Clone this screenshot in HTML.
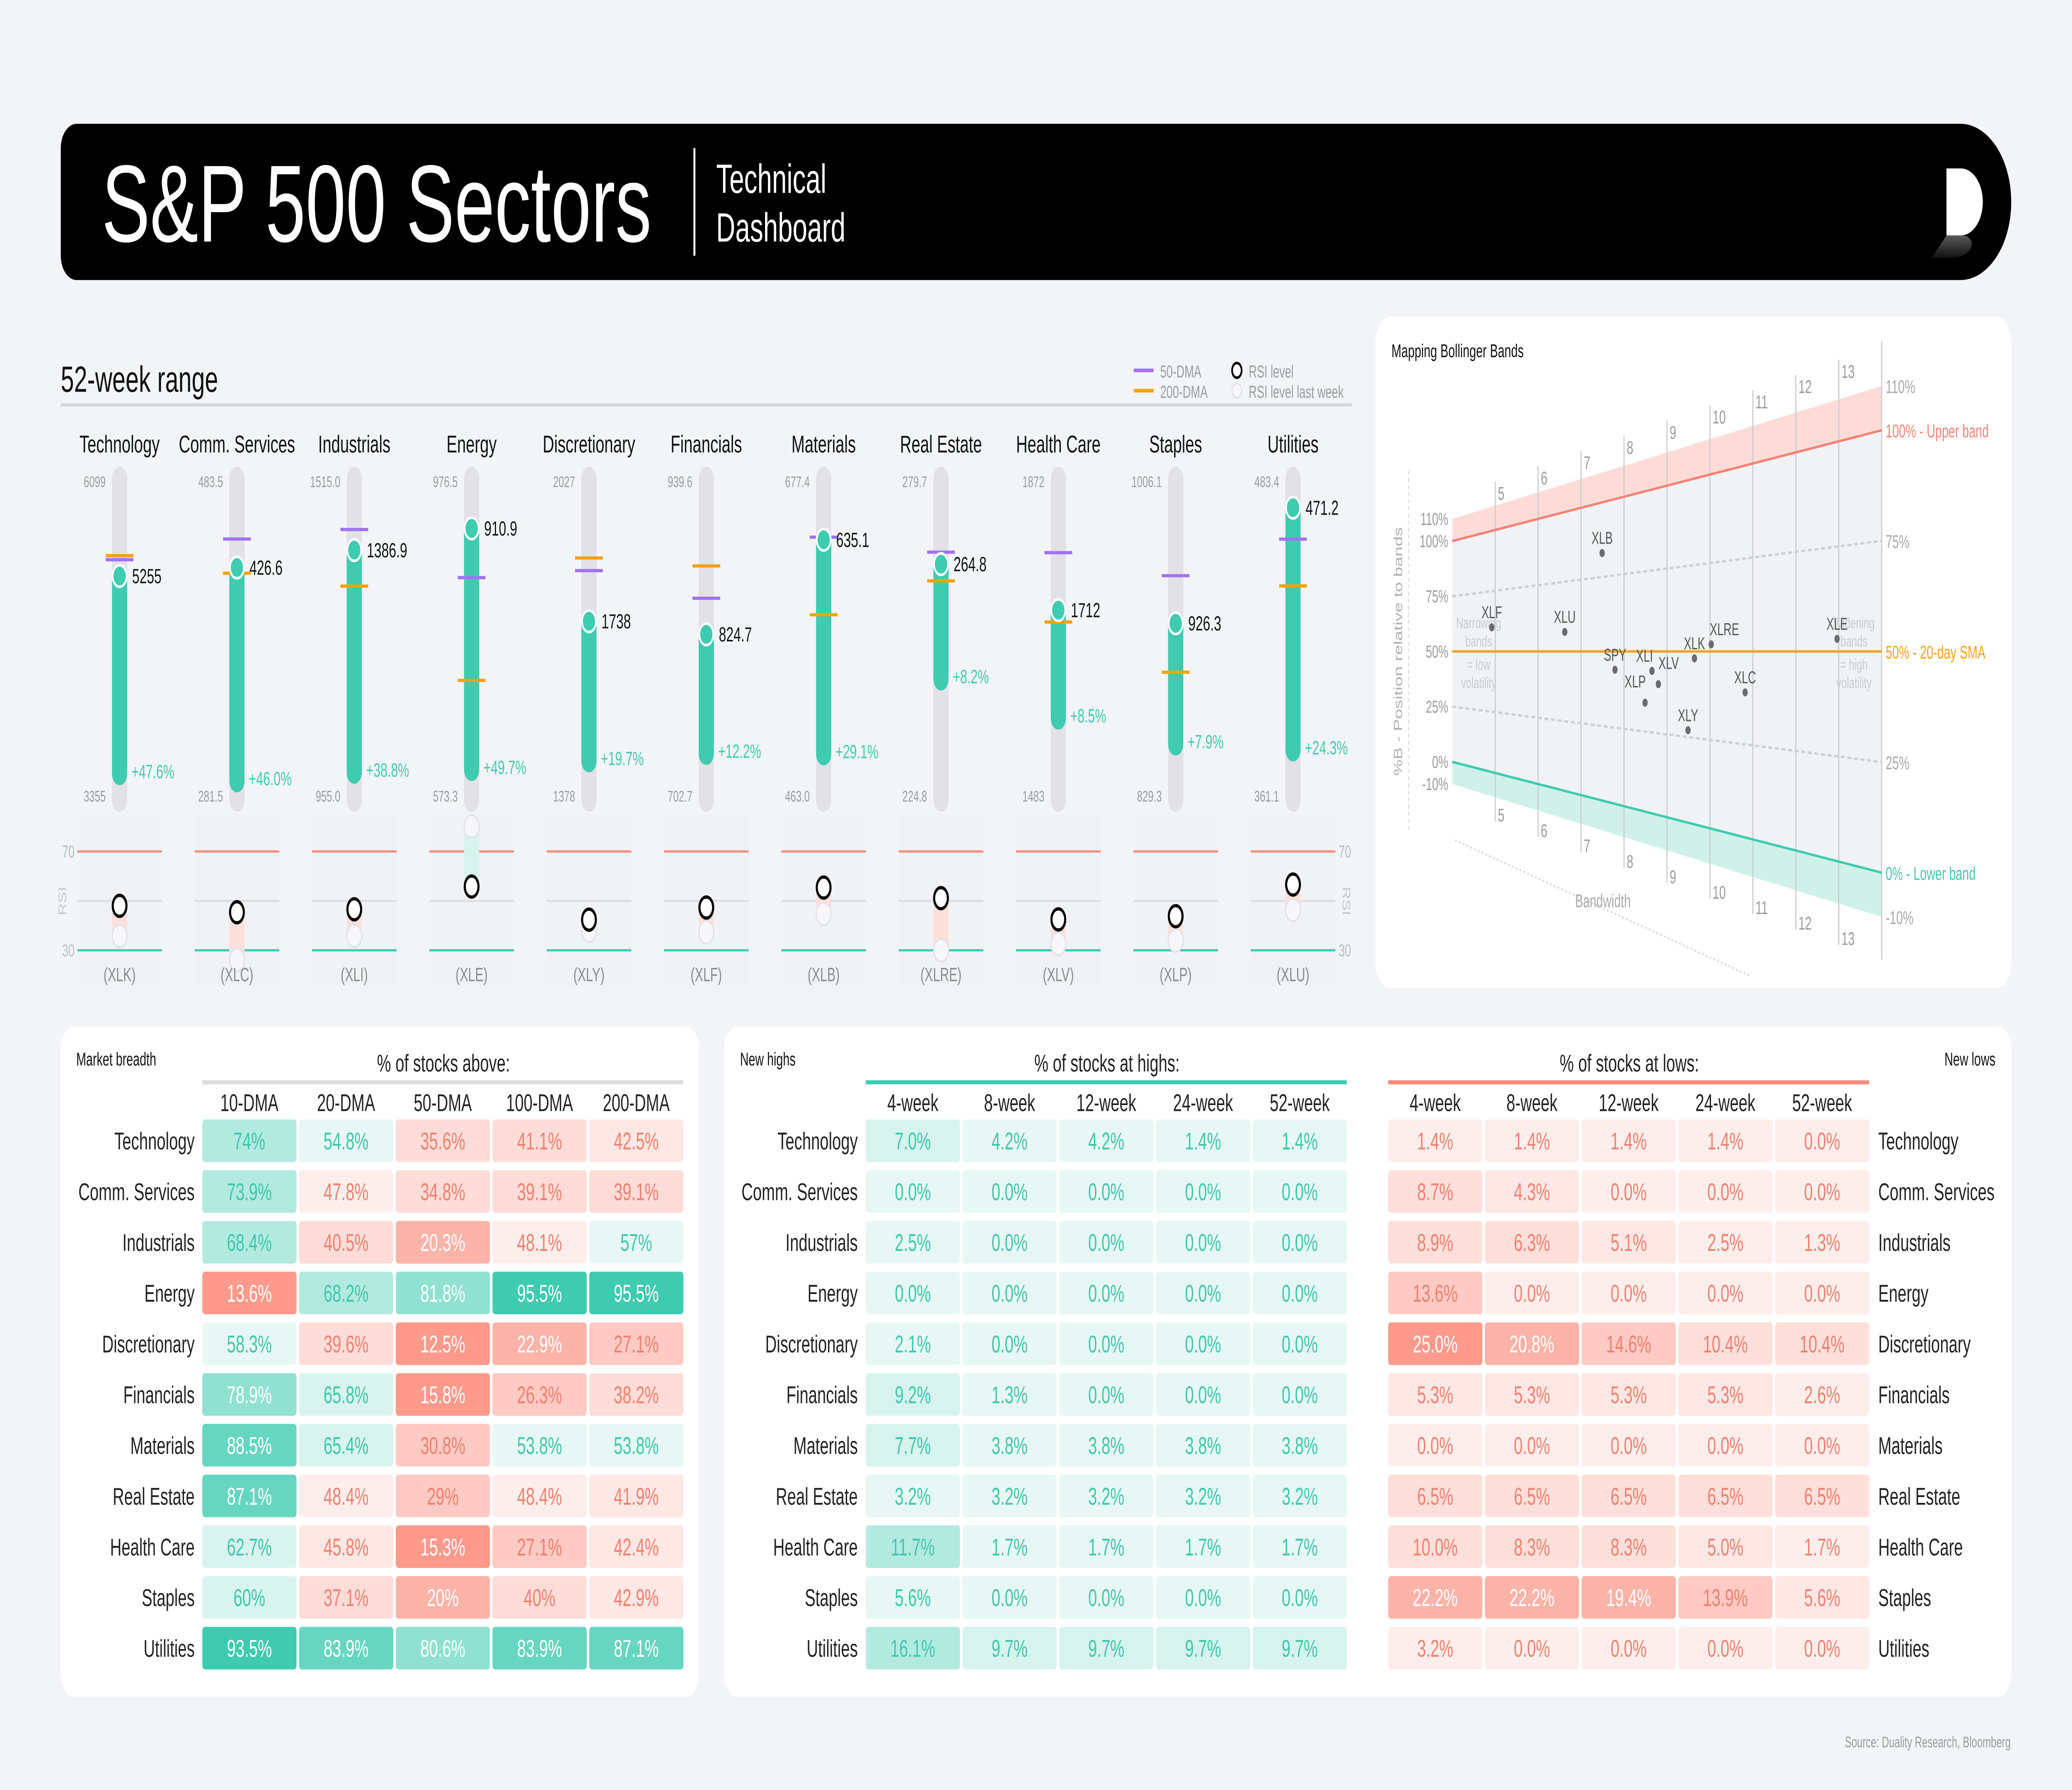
<!DOCTYPE html>
<html><head><meta charset="utf-8"><title>S&amp;P 500 Sectors Technical Dashboard</title>
<style>
html,body{margin:0;padding:0;background:#f3f4f7;width:100%;height:100%;overflow:hidden;}
svg{display:block;font-family:"Liberation Sans",sans-serif;width:100vw;height:100vh;}
</style></head>
<body>
<svg id="root" xmlns="http://www.w3.org/2000/svg" viewBox="0 0 1568 882" preserveAspectRatio="none">
<defs>
<linearGradient id="logoShadow" x1="0" y1="0" x2="0" y2="1"><stop offset="0" stop-color="#5a5a5a"/><stop offset="1" stop-color="#111"/></linearGradient>
</defs>
<rect x="0" y="0" width="1568" height="882" fill="#f3f4f7"/>
<g>
<path d="M58,61 H1483.5 A38.5,38.5 0 0 1 1483.5,138 H58 A12,12 0 0 1 46,126 V73 A12,12 0 0 1 58,61 Z" fill="#000"/>
<text x="77" y="119" font-size="54" fill="#fff" textLength="416" lengthAdjust="spacingAndGlyphs">S&amp;P 500 Sectors</text>
<line x1="525.5" y1="73" x2="525.5" y2="126" stroke="#fff" stroke-width="1.5"/>
<text x="542" y="95" font-size="20" fill="#fff">Technical</text>
<text x="542" y="119" font-size="20" fill="#fff">Dashboard</text>
<path d="M1473,116 L1462,127 H1478 Q1493,126 1492,119 Q1490,116 1484,116 Z" fill="url(#logoShadow)"/>
<path d="M1473,83 H1484 A16.5,16.5 0 0 1 1484,116 H1473 Z" fill="#fff"/>
</g>
<g>
<text x="46" y="193" font-size="18" fill="#111">52-week range</text>
<line x1="46" y1="199.5" x2="1023" y2="199.5" stroke="#d5d5da" stroke-width="1.5"/>
<line x1="858" y1="182.5" x2="873" y2="182.5" stroke="#a073f0" stroke-width="1.8"/>
<text x="878" y="186" font-size="8.5" fill="#9a9aa0">50-DMA</text>
<line x1="858" y1="192.5" x2="873" y2="192.5" stroke="#f5a10f" stroke-width="1.8"/>
<text x="878" y="196" font-size="8.5" fill="#9a9aa0">200-DMA</text>
<circle cx="936" cy="182.5" r="3.6" fill="#fff" stroke="#000" stroke-width="1.3"/>
<text x="945" y="186" font-size="8.5" fill="#9a9aa0">RSI level</text>
<circle cx="936" cy="192.5" r="3.6" fill="#f7f7f9" stroke="#e3e3e8" stroke-width="1"/>
<text x="945" y="196" font-size="8.5" fill="#9a9aa0">RSI level last week</text>
</g>
<g id="rangeChart"></g>
<g id="bbChart"></g>
<g id="tables"></g>
<text x="1521.6" y="861" font-size="7.5" fill="#999" text-anchor="end">Source: Duality Research, Bloomberg</text>
</svg>
<script>
// ---------- 52-week range data ----------
const sectors = ["Technology","Comm. Services","Industrials","Energy","Discretionary","Financials","Materials","Real Estate","Health Care","Staples","Utilities"];
const tickers = ["XLK","XLC","XLI","XLE","XLY","XLF","XLB","XLRE","XLV","XLP","XLU"];
const rangeMax = [6099,483.5,1515.0,976.5,2027,939.6,677.4,279.7,1872,1006.1,483.4];
const rangeMin = [3355,281.5,955.0,573.3,1378,702.7,463.0,224.8,1483,829.3,361.1];
const rangeMaxLabels = ["6099","483.5","1515.0","976.5","2027","939.6","677.4","279.7","1872","1006.1","483.4"];
const rangeMinLabels = ["3355","281.5","955.0","573.3","1378","702.7","463.0","224.8","1483","829.3","361.1"];
const lastPrice = [5255,426.6,1386.9,910.9,1738,824.7,635.1,264.8,1712,926.3,471.2];
const priceLabels = ["5255","426.6","1386.9","910.9","1738","824.7","635.1","264.8","1712","926.3","471.2"];
const gainPct = [47.6,46.0,38.8,49.7,19.7,12.2,29.1,8.2,8.5,7.9,24.3];
const dma50 = [5391,444.1,1422,850.5,1838,850.7,636.8,266.8,1780,951.9,459.5];
const dma200 = [5425,423.1,1325.6,724.5,1863,874,586.2,262.0,1698,900,442.1];
const rsiNow = [48.0,45.4,46.6,55.8,42.4,47.3,55.4,51.1,42.5,43.8,56.6];
const rsiLastWeek = [35.8,26.1,35.8,80.1,38.0,37.3,44.7,30.0,32.6,34.0,46.3];
const rsiTicks = [70,50,30];

// ---------- Bollinger data ----------
const bbTickers = ["XLB","XLF","XLU","SPY","XLI","XLP","XLV","XLK","XLRE","XLY","XLC","XLE"];
const bbBandwidth = [7.49,4.92,6.62,7.79,8.65,8.49,8.80,9.64,10.03,9.49,10.82,12.96];
const bbPctB = [0.83,0.60,0.57,0.44,0.44,0.34,0.40,0.48,0.52,0.27,0.39,0.53];
const bbGridBandwidths = [5,6,7,8,9,10,11,12,13];
const bbLeftTicks = [1.1,1.0,0.75,0.5,0.25,0,-0.1];
const bbLeftTickLabels = ["110%","100%","75%","50%","25%","0%","-10%"];
const bbRightTicks = [1.1,1.0,0.75,0.5,0.25,0,-0.1];
const bbRightTickLabels = ["110%","100% - Upper band","75%","50% - 20-day SMA","25%","0% - Lower band","-10%"];

// ---------- table data ----------
const breadthHeaders = ["10-DMA","20-DMA","50-DMA","100-DMA","200-DMA"];
const breadthValues = [
 [74,54.8,35.6,41.1,42.5],[73.9,47.8,34.8,39.1,39.1],[68.4,40.5,20.3,48.1,57],
 [13.6,68.2,81.8,95.5,95.5],[58.3,39.6,12.5,22.9,27.1],[78.9,65.8,15.8,26.3,38.2],
 [88.5,65.4,30.8,53.8,53.8],[87.1,48.4,29,48.4,41.9],[62.7,45.8,15.3,27.1,42.4],
 [60,37.1,20,40,42.9],[93.5,83.9,80.6,83.9,87.1]];
const weekHeaders = ["4-week","8-week","12-week","24-week","52-week"];
const highsValues = [
 [7.0,4.2,4.2,1.4,1.4],[0,0,0,0,0],[2.5,0,0,0,0],[0,0,0,0,0],[2.1,0,0,0,0],
 [9.2,1.3,0,0,0],[7.7,3.8,3.8,3.8,3.8],[3.2,3.2,3.2,3.2,3.2],[11.7,1.7,1.7,1.7,1.7],
 [5.6,0,0,0,0],[16.1,9.7,9.7,9.7,9.7]];
const lowsValues = [
 [1.4,1.4,1.4,1.4,0],[8.7,4.3,0,0,0],[8.9,6.3,5.1,2.5,1.3],[13.6,0,0,0,0],
 [25.0,20.8,14.6,10.4,10.4],[5.3,5.3,5.3,5.3,2.6],[0,0,0,0,0],[6.5,6.5,6.5,6.5,6.5],
 [10.0,8.3,8.3,5.0,1.7],[22.2,22.2,19.4,13.9,5.6],[3.2,0,0,0,0]];

const NS = "http://www.w3.org/2000/svg";
function mk(tag, attrs, parent){const el=document.createElementNS(NS,tag);for(const k in attrs)el.setAttribute(k,attrs[k]);parent.appendChild(el);return el;}
function tx(str, attrs, parent){const el=mk('text',attrs,parent);el.textContent=str;return el;}
function hex(c){return [1,3,5].map(i=>parseInt(c.substr(i,2),16));}
function mix(a,b,s){const A=hex(a),B=hex(b);return 'rgb('+A.map((v,i)=>Math.round(v+(B[i]-v)*s)).join(',')+')';}

// ===== 52-week range chart =====
const rc = document.getElementById('rangeChart');
const colX = i => 90.5 + 88.8*i;
const priceY = (i,v) => 234 + (rangeMax[i]-v)/(rangeMax[i]-rangeMin[i])*162;
const rsiY = r => 443.9 - (r-50)*1.2175;
const TEAL='#3ecbb0';
for(let i=0;i<sectors.length;i++){
  const cx=colX(i);
  const g=mk('g',{},rc);
  
  
  const nm=tx(sectors[i],{x:cx,y:223,'font-size':12,'text-anchor':'middle',fill:'#111'},g);
  
  
  const track=mk('rect',{x:cx-5.75,y:230,width:11.5,height:170,rx:5.75,fill:'#e1e1e6'},g);
  
  
  const low=lastPrice[i]/(1+gainPct[i]/100);
  const yp=priceY(i,lastPrice[i]), yl=priceY(i,low);
  const bar=mk('rect',{x:cx-5.75,y:yp-5,width:11.5,height:yl-yp+8,rx:5.75,fill:TEAL},g);
  
  
  const l50=mk('line',{x1:cx-10.5,x2:cx+10.5,y1:priceY(i,dma50[i]),y2:priceY(i,dma50[i]),stroke:'#a073f0','stroke-width':1.6},g);
  
  
  const l200=mk('line',{x1:cx-10.5,x2:cx+10.5,y1:priceY(i,dma200[i]),y2:priceY(i,dma200[i]),stroke:'#f5a10f','stroke-width':1.6},g);
  
  
  const pc=mk('circle',{cx:cx,cy:yp,r:5.3,fill:TEAL,stroke:'#fff','stroke-width':1.3},g);
  
  
  const pl=tx(priceLabels[i],{x:cx+9.5,y:yp+3.5,'font-size':10,fill:'#111'},g);
  
  
  const gl=tx('+'+gainPct[i].toFixed(1)+'%',{x:cx+9,y:yl-0.5,'font-size':9.5,fill:TEAL},g);
  
  
  const mx=tx(rangeMaxLabels[i],{x:cx-10.5,y:240,'font-size':7.5,fill:'#9a9aa0','text-anchor':'end'},g);
  
  
  const mn=tx(rangeMinLabels[i],{x:cx-10.5,y:395,'font-size':7.5,fill:'#9a9aa0','text-anchor':'end'},g);
  
  
  const pnl=mk('rect',{x:cx-32,y:401,width:64,height:85,fill:'#f1f2f5'},g);
  
  
  const tickCol=['#f58c7c','#dedee3',TEAL];
  rsiTicks.forEach((t,k)=>{
    const ln=mk('line',{x1:cx-32,x2:cx+32,y1:rsiY(t),y2:rsiY(t),stroke:tickCol[k],'stroke-width':1.1},g);
    
    
  });
  const yn=rsiY(rsiNow[i]), yw=rsiY(rsiLastWeek[i]);
  const band=mk('rect',{x:cx-5.75,y:Math.min(yn,yw),width:11.5,height:Math.abs(yn-yw),fill:rsiNow[i]>=rsiLastWeek[i]?'#fde0dc':'#d6f3ec'},g);
  
  
  const lw=mk('circle',{cx:cx,cy:yw,r:5.6,fill:'#f7f7f9',stroke:'#e3e3e8','stroke-width':1},g);
  
  
  const rn=mk('circle',{cx:cx,cy:yn,r:5.2,fill:'#fff',stroke:'#000','stroke-width':1.6},g);
  
  
  const tk=tx('('+tickers[i]+')',{x:cx,y:483.5,'font-size':9.5,fill:'#8a8a90','text-anchor':'middle'},g);
  
  
}
[0,1].forEach(side=>{
  rsiTicks.filter(t=>t!==50).forEach(t=>{
    const l=tx(String(t),{x:side?1013:47,y:rsiY(t)+3,'font-size':8.5,fill:'#bbbbc0'},rc);
    
    
  });
  const rx=side?1016:50;
  const r=tx('RSI',{x:rx,y:444,'font-size':8.5,fill:'#c8c8cc','text-anchor':'middle',transform:'rotate('+(side?90:-90)+' '+rx+' 444)'},rc);
  
  
});

// ===== Bollinger chart =====
const bb=document.getElementById('bbChart');
const card=mk('rect',{x:1041,y:156,width:481,height:331,rx:12,fill:'#fff'},bb);


const bt=tx('Mapping Bollinger Bands',{x:1053,y:176,'font-size':9,fill:'#111'},bb);


const BX = bw => 1099 + (bw-4)*32.5;
const BY = (bw,b) => {const t=(bw-4)/10;const up=266.6-54.6*t, lo=375.4+54.6*t;return lo+(up-lo)*b;};
function bandPoly(b1,b2,fill,name){
  const p=[[4,b1],[14,b1],[14,b2],[4,b2]].map(q=>BX(q[0])+','+BY(q[0],q[1])).join(' ');
  const el=mk('polygon',{points:p,fill:fill},bb);
  
  
}
bandPoly(1,0,'#f1f2f5','band-interior');
bandPoly(1.1,1,'#fddcd7','upper-overshoot-zone');
bandPoly(0,-0.1,'#d0f1e9','lower-overshoot-zone');
bbGridBandwidths.forEach(k=>{
  const x=BX(k), top=237.2-(k-5)*7.5, bot=404.8+(k-5)*7.6;
  const l=mk('line',{x1:x,x2:x,y1:top,y2:bot,stroke:'#c9c9ce','stroke-width':0.8},bb);
  
  
  const a=tx(String(k),{x:x+2,y:top+9,'font-size':9,fill:'#9a9aa0'},bb);
  
  
  const b=tx(String(k),{x:x+2,y:bot,'font-size':9,fill:'#9a9aa0'},bb);
  
  
});
const ra=mk('line',{x1:1424,x2:1424,y1:168,y2:473,stroke:'#c9c9ce','stroke-width':0.8},bb);


function bLine(b,stroke,dash,name){
  const el=mk('line',{x1:BX(4),y1:BY(4,b),x2:BX(14),y2:BY(14,b),stroke:stroke,'stroke-width':1.2},bb);
  if(dash)el.setAttribute('stroke-dasharray',dash);
  
  
}
bLine(0.75,'#cfcfd4','3,2','line-75pct');
bLine(0.25,'#cfcfd4','3,2','line-25pct');
bLine(1,'#f58275',null,'upper-band-line');
bLine(0,TEAL,null,'lower-band-line');
bLine(0.5,'#f7a21b',null,'sma-line');
bbLeftTicks.forEach((b,k)=>{
  const l=tx(bbLeftTickLabels[k],{x:1096,y:BY(4,b)+3,'font-size':8.5,fill:'#9a9aa0','text-anchor':'end'},bb);
  
  
});
const rCols=['#a8a8ae','#f58275','#a8a8ae','#f7a21b','#a8a8ae',TEAL,'#a8a8ae'];
bbRightTicks.forEach((b,k)=>{
  const l=tx(bbRightTickLabels[k],{x:1427,y:BY(14,b)+3.5,'font-size':9,fill:rCols[k]},bb);
  
  
});
const yt=tx('%B - Position relative to bands',{x:1061,y:321,'font-size':9,fill:'#b0b0b5','text-anchor':'middle',transform:'rotate(-90 1061 321)'},bb);


const ya=mk('line',{x1:1066,x2:1066,y1:232,y2:410,stroke:'#ddd','stroke-width':0.8,'stroke-dasharray':'2,1.5'},bb);


const xa=mk('line',{x1:1101,y1:414,x2:1325,y2:481,stroke:'#ddd','stroke-width':1,'stroke-dasharray':'1.5,1.5'},bb);


const xt=tx('Bandwidth',{x:1213,y:447,'font-size':9,fill:'#aaa','text-anchor':'middle'},bb);


[["Narrowing","bands","= low","volatility"],["Widening","bands","= high","volatility"]].forEach((lines,s)=>{
  lines.forEach((w,k)=>{
    const t=tx(w,{x:s?1403:1119,y:[309.5,318.5,330,339][k],'font-size':7.5,fill:'#cacace','text-anchor':'middle'},bb);
    
    
  });
});
const labelDx={XLI:-5.6,XLV:7.8,XLP:-7.5,XLRE:10};
const labelDy={XLV:-3,XLP:-3};
bbTickers.forEach((t,k)=>{
  const x=BX(bbBandwidth[k]), y=BY(bbBandwidth[k],bbPctB[k]);
  const d=mk('circle',{cx:x,cy:y,r:2,fill:'#6b6b70'},bb);
  
  
  const l=tx(t,{x:x+(labelDx[t]||0),y:y-4.5+(labelDy[t]||0),'font-size':8.5,fill:'#555','text-anchor':'middle'},bb);
  
  
});

// ===== Tables =====
const tb=document.getElementById('tables');
const RED_TXT='#f0806f', TEAL_TXT='#3ec7ab';
function tealFill(s){return mix('#ecf9f6','#3ecbb0',s);}
function redFill(s){return mix('#fef2f0','#fd9a8c',s);}
function breadthStyle(v){
  if(v>=50){const s=v>=90?1:v>=83?0.77:v>=78?0.53:v>=67?0.33:v>=60?0.11:0.03;return [tealFill(s),s>=0.5?'#fff':TEAL_TXT];}
  const s=v<17?1:v<24?0.72:v<32?0.45:v<41.5?0.25:v<46?0.12:0.05;return [redFill(s),s>=0.7?'#fff':RED_TXT];
}
function highStyle(v){const s=v>=11?0.33:v>=6.5?0.12:0.03;return [tealFill(s),TEAL_TXT];}
function lowStyle(v){const s=v>=23?1:v>=18?0.72:v>=12?0.45:v>=6?0.22:v>=4?0.12:0.05;return [redFill(s),s>=0.7?'#fff':RED_TXT];}
function card2(x,w,name){const c=mk('rect',{x:x,y:506,width:w,height:330,rx:10,fill:'#fff'},tb);}
card2(46,483,'market-breadth-card');
card2(548,974,'new-highs-lows-card');
function drawTable(x0,values,headers,styler,fmt,title,ruleColor,name){
  const g=mk('g',{},tb);
  
  
  const tt=tx(title,{x:x0+182.5,y:528,'font-size':12,fill:'#222','text-anchor':'middle'},g);
  
  
  const ru=mk('line',{x1:x0,x2:x0+364,y1:533.3,y2:533.3,stroke:ruleColor,'stroke-width':2},g);
  
  
  headers.forEach((h,j)=>{
    const t=tx(h,{x:x0+73.2*j+35.6,y:547.5,'font-size':12,fill:'#222','text-anchor':'middle'},g);
    
    
  });
  values.forEach((row,i)=>row.forEach((v,j)=>{
    const st=styler(v), x=x0+73.2*j, y=551.6+25*i;
    const r=mk('rect',{x:x,y:y,width:71.3,height:21,rx:2,fill:st[0]},g);
    
    
    const t=tx(fmt(v),{x:x+35.6,y:y+14.8,'font-size':12,fill:st[1],'text-anchor':'middle'},g);
    
    
  }));
}
function rowLabels(x,anchor){
  sectors.forEach((s,i)=>{
    const t=tx(s,{x:x,y:551.6+25*i+14.8,'font-size':12,fill:'#222','text-anchor':anchor},tb);
    
    
  });
}
drawTable(153.1,breadthValues,breadthHeaders,breadthStyle,v=>String(v)+'%','% of stocks above:','#dcdce0','market-breadth-table');
drawTable(655.2,highsValues,weekHeaders,highStyle,v=>v.toFixed(1)+'%','% of stocks at highs:',TEAL,'new-highs-table');
drawTable(1050.5,lowsValues,weekHeaders,lowStyle,v=>v.toFixed(1)+'%','% of stocks at lows:','#f58c7c','new-lows-table');
rowLabels(147.3,'end');
rowLabels(649.1,'end');
rowLabels(1421.4,'start');
[['Market breadth',57.7,'start','market-breadth-title'],['New highs',560,'start','new-highs-title'],['New lows',1510,'end','new-lows-title']].forEach(a=>{
  const t=tx(a[0],{x:a[1],y:525,'font-size':9,fill:'#111','text-anchor':a[2]},tb);
  
  
});
</script>
</body></html>
